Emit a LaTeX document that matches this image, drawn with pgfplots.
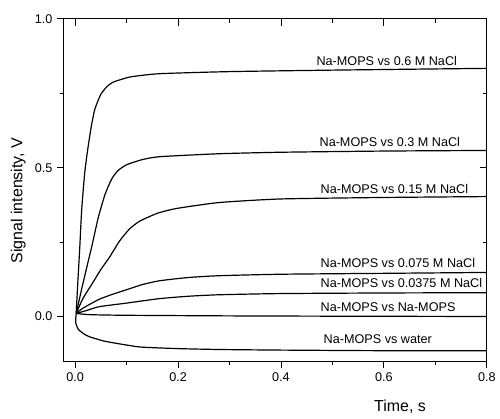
\documentclass[border=0pt]{standalone}
\usepackage{pgfplots}
\pgfplotsset{compat=1.18}
\usepackage{fontspec}
\setmainfont{Liberation Sans}

\begin{document}
\begin{tikzpicture}
\pgfplotsset{
  base/.style={
    scale only axis,
    width=318pt, height=257.25pt,
    xmin=-0.022, xmax=0.8,
    ymin=-0.15, ymax=1.0,
    xtick={0,0.2,0.4,0.6,0.8},
    ytick={0,0.5,1.0},
    minor x tick num=1,
    minor y tick num=1,
    major tick length=5pt,
    minor tick length=3pt,
    axis line style={line width=0.8pt},
    every tick/.style={black,line width=0.7pt},
    clip=false,
  }
}
\begin{axis}[base,
  xtick pos=left, ytick pos=left,
  tick align=outside,
  /pgf/number format/assume math mode=true,
  xticklabel style={/pgf/number format/.cd,fixed,fixed zerofill,precision=1},
  yticklabel style={/pgf/number format/.cd,fixed,fixed zerofill,precision=1},
  tick label style={font=\fontsize{9.5}{11}\selectfont},
  xlabel={Time, s},
  ylabel={Signal intensity, V},
  label style={font=\fontsize{12}{14}\selectfont},
  xlabel style={at={(axis description cs:0.795,-0.134)},anchor=center},
  ylabel style={at={(axis description cs:-0.108,0.469)},anchor=center},
  cycle list={{black,solid,mark=none}},
  every axis plot post/.append style={line width=0.9pt,smooth,tension=0.35},
]
% 0.6 M NaCl
\addplot coordinates {(0.002,0.01) (0.005,0.11) (0.009,0.233) (0.0126,0.357) (0.019,0.49) (0.026,0.58) (0.032,0.645) (0.038,0.695) (0.045,0.728) (0.051,0.75) (0.062,0.773) (0.073,0.787) (0.09,0.797) (0.11,0.806) (0.164,0.816) (0.3,0.823) (0.5,0.828) (0.8,0.834)};
% 0.3 M NaCl
\addplot coordinates {(0.002,0.01) (0.013,0.095) (0.026,0.19) (0.032,0.233) (0.045,0.333) (0.058,0.41) (0.071,0.462) (0.083,0.49) (0.1,0.51) (0.13,0.527) (0.164,0.537) (0.28,0.547) (0.4,0.552) (0.6,0.556) (0.8,0.558)};
% 0.15 M NaCl
\addplot coordinates {(0.002,0.01) (0.015,0.06) (0.034,0.113) (0.05,0.158) (0.067,0.2) (0.086,0.253) (0.105,0.293) (0.125,0.32) (0.16,0.347) (0.197,0.363) (0.28,0.383) (0.4,0.395) (0.6,0.4) (0.8,0.403)};
% 0.075 M NaCl
\addplot coordinates {(0.002,0.01) (0.01,0.022) (0.022,0.035) (0.047,0.058) (0.07,0.073) (0.1,0.09) (0.13,0.107) (0.164,0.12) (0.22,0.131) (0.28,0.137) (0.4,0.142) (0.6,0.145) (0.8,0.148)};
% 0.0375 M NaCl
\addplot coordinates {(0.002,0.01) (0.022,0.02) (0.047,0.033) (0.1,0.045) (0.164,0.06) (0.22,0.068) (0.28,0.073) (0.4,0.077) (0.6,0.079) (0.8,0.08)};
% Na-MOPS
\addplot coordinates {(0.002,0.01) (0.03,0.006) (0.1,0.004) (0.3,0.002) (0.5,0.001) (0.8,0.0)};
% water
\addplot coordinates {(0.002,0.01) (0.001,-0.02) (0.006,-0.043) (0.015,-0.056) (0.026,-0.067) (0.057,-0.083) (0.1,-0.096) (0.129,-0.103) (0.2,-0.108) (0.28,-0.111) (0.4,-0.113) (0.6,-0.115) (0.8,-0.115)};

\begin{scope}[font=\fontsize{9.5}{11}\selectfont]
\node[anchor=west] at (axis cs:0.46,0.86) {Na-MOPS vs 0.6 M NaCl};
\node[anchor=west] at (axis cs:0.466,0.587) {Na-MOPS vs 0.3 M NaCl};
\node[anchor=west] at (axis cs:0.468,0.427) {Na-MOPS vs 0.15 M NaCl};
\node[anchor=west] at (axis cs:0.468,0.18) {Na-MOPS vs 0.075 M NaCl};
\node[anchor=west] at (axis cs:0.468,0.113) {Na-MOPS vs 0.0375 M NaCl};
\node[anchor=west] at (axis cs:0.468,0.033) {Na-MOPS vs Na-MOPS};
\node[anchor=west] at (axis cs:0.474,-0.077) {Na-MOPS vs water};
\end{scope}
\end{axis}
\begin{axis}[base,
  xtick pos=right, ytick pos=right,
  tick align=inside,
  xticklabels={}, yticklabels={},
]
\end{axis}
\path (current axis.south west) ++(-48pt,-41.25pt) coordinate (bl);
\path (current axis.north east) ++(9pt,14.25pt) coordinate (tr);
\useasboundingbox (bl) rectangle (tr);
\end{tikzpicture}
\end{document}
